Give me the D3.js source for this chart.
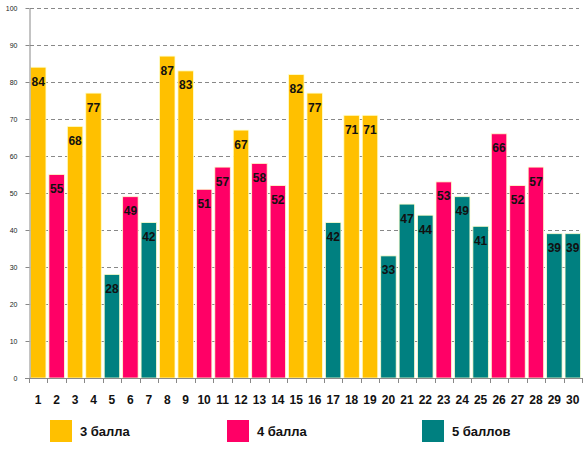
<!DOCTYPE html>
<html><head><meta charset="utf-8">
<script src="https://cdn.jsdelivr.net/npm/d3@7"></script>
<style>body{margin:0;background:#fff}svg{display:block}</style>
</head><body>
<svg id="c" width="586" height="451"></svg>
<script>
const categories = d3.range(1, 31).map(String);
const values = [84,55,68,77,28,49,42,87,83,51,57,67,58,52,82,77,42,71,71,33,47,44,53,49,41,66,52,57,39,39];
const groups = ["3","4","3","3","5","4","5","3","3","4","4","3","4","4","3","3","5","3","3","5","5","5","4","5","5","4","4","4","5","5"];
const legendKeys = ["3","4","5"];
const legendLabels = ["3 балла","4 балла","5 баллов"];
const yTicks = [0,10,20,30,40,50,60,70,80,90,100];
const colors = {"3":"#FFC000","4":"#FF0066","5":"#008080"};

const svg = d3.select("#c");
const x = d3.scaleBand().domain(categories).range([29, 582]).paddingInner(0.16).paddingOuter(0.08);
const y = d3.scaleLinear().domain([0,100]).range([378, 8]);

// gridlines
svg.append("g").selectAll("line").data(yTicks.filter(d=>d>0)).join("line")
  .attr("x1", 30).attr("x2", 579)
  .attr("y1", d=>Math.round(y(d))+0.5).attr("y2", d=>Math.round(y(d))+0.5)
  .attr("stroke", "#888").attr("stroke-width", 1).attr("stroke-dasharray", "4,3");

// bars
svg.append("g").selectAll("rect").data(values).join("rect")
  .attr("x", (d,i)=>x(categories[i]))
  .attr("y", d=>y(d))
  .attr("width", x.bandwidth())
  .attr("height", d=>y(0)-y(d))
  .attr("fill", (d,i)=>colors[groups[i]])
  .attr("stroke", "#FFFFCC").attr("stroke-width", 0.8);

// value labels
svg.append("g").selectAll("text").data(values).join("text")
  .attr("x", (d,i)=>x(categories[i]) + x.bandwidth()/2)
  .attr("y", d=>y(d) + 18.5)
  .attr("text-anchor", "middle")
  .attr("font-family", "'Liberation Sans', Arial, sans-serif")
  .attr("font-weight", "bold").attr("font-size", 12)
  .attr("fill", "#111")
  .text(d=>d);

// y axis
const yAxis = svg.append("g").attr("transform", "translate(29.5,0)")
  .call(d3.axisLeft(y).tickValues(yTicks).tickSize(4).tickSizeOuter(0).tickPadding(8));
yAxis.select(".domain").attr("stroke", "#888");
yAxis.selectAll(".tick line").attr("stroke", "#888");
yAxis.selectAll("text").attr("font-family", "'Liberation Sans', Arial, sans-serif")
  .attr("font-size", 7).attr("fill", "#222");

// x axis
const xAxis = svg.append("g").attr("transform", "translate(0,378.5)")
  .call(d3.axisBottom(x).tickSize(0).tickPadding(17));
xAxis.select(".domain").attr("d", "M25,0H582").attr("stroke", "#888");
xAxis.selectAll("text").attr("font-family", "'Liberation Sans', Arial, sans-serif")
  .attr("font-weight", "bold").attr("font-size", 12).attr("fill", "#111");
// boundary ticks
const step = x.step();
svg.append("g").selectAll("line").data(d3.range(0, 31)).join("line")
  .attr("x1", i=>Math.round(29 + i*step)+0.5).attr("x2", i=>Math.round(29 + i*step)+0.5)
  .attr("y1", 378).attr("y2", 383).attr("stroke", "#888");

// legend
const legendX = [50, 227, 422];
const lg = svg.append("g").selectAll("g").data(legendKeys).join("g")
  .attr("transform", (d,i)=>`translate(${legendX[i]},420)`);
lg.append("rect").attr("width", 22).attr("height", 22).attr("fill", d=>colors[d]);
lg.append("text").attr("x", 30).attr("y", 16)
  .attr("font-family", "'Liberation Sans', Arial, sans-serif")
  .attr("font-weight", "bold").attr("font-size", 13).attr("fill", "#111")
  .text((d,i)=>legendLabels[i]);
</script>
</body></html>
